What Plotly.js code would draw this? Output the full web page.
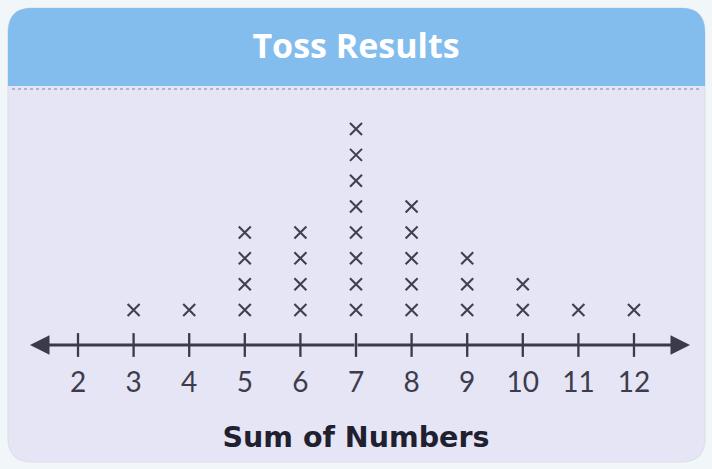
<!DOCTYPE html>
<html><head><meta charset="utf-8">
<script src="https://cdn.plot.ly/plotly-3.0.1.min.js"></script>
<style>html,body{margin:0;padding:0;background:#f1f6f9}</style>
</head><body><div id="chart" style="width:712px;height:469px"></div>
<script>
// ---- data ----
const sums = [2, 3, 4, 5, 6, 7, 8, 9, 10, 11, 12];
const counts = [0, 1, 1, 4, 4, 8, 5, 3, 2, 1, 1];
const tickLabels = ['2', '3', '4', '5', '6', '7', '8', '9', '10', '11', '12'];
const chartTitle = 'Toss Results';
const axisTitle = 'Sum of Numbers';

// ---- build stacked X marks from counts ----
const xs = [], ys = [];
sums.forEach((s, i) => { for (let k = 1; k <= counts[i]; k++) { xs.push(s); ys.push(k); } });

const W = 712, H = 469;
const AXIS_PX = 345;
const X_RANGE = [0.597, 13.403];
const Y_RANGE = [-5.149, 12.99];
const AXIS_Y = -0.353;
function px(x) { return (x / W).toFixed(4); }
function py(y) { return (1 - y / H).toFixed(4); }

const L = 8, R = 705, T = 8, B = 462, RAD = 24, HB = 86;
const cardPath = `M ${px(L)},${py(T + RAD)} Q ${px(L)},${py(T)} ${px(L + RAD)},${py(T)} L ${px(R - RAD)},${py(T)} Q ${px(R)},${py(T)} ${px(R)},${py(T + RAD)} L ${px(R)},${py(B - RAD)} Q ${px(R)},${py(B)} ${px(R - RAD)},${py(B)} L ${px(L + RAD)},${py(B)} Q ${px(L)},${py(B)} ${px(L)},${py(B - RAD)} Z`;
const headPath = `M ${px(L)},${py(HB)} L ${px(L)},${py(T + RAD)} Q ${px(L)},${py(T)} ${px(L + RAD)},${py(T)} L ${px(R - RAD)},${py(T)} Q ${px(R)},${py(T)} ${px(R)},${py(T + RAD)} L ${px(R)},${py(HB)} Z`;

const traces = [
  {
    x: sums, y: sums.map(() => AXIS_Y), mode: 'markers', type: 'scatter',
    marker: { symbol: 'line-ns-open', size: 17, color: '#3a3a4a', line: { width: 2.3, color: '#3a3a4a' } },
    cliponaxis: false, hoverinfo: 'skip', showlegend: false
  },
  {
    x: xs, y: ys, mode: 'markers', type: 'scatter',
    marker: { symbol: 'x-thin-open', size: 12, color: '#40404f', line: { width: 2.1, color: '#40404f' } },
    cliponaxis: false, showlegend: false
  }
];

const layout = {
  width: W, height: H,
  margin: { l: 0, r: 0, t: 0, b: 0, pad: 0 },
  paper_bgcolor: '#f1f6f9', plot_bgcolor: 'rgba(0,0,0,0)',
  showlegend: false,
  title: {
    text: chartTitle, x: 0.5, xanchor: 'center', y: 1 - 46 / H, yanchor: 'middle', yref: 'container',
    font: { family: 'Open Sans', size: 34, color: '#ffffff', weight: 700 }
  },
  xaxis: {
    range: X_RANGE, anchor: 'free', position: (H - AXIS_PX) / H,
    tickvals: sums, ticktext: tickLabels, ticks: '', showline: false, showgrid: false, zeroline: false,
    tickfont: { family: 'Lato', size: 28, color: '#3c3c4c' }, ticklabelstandoff: 18,
    title: { text: axisTitle, standoff: 30, font: { family: 'DejaVu Sans', size: 28.5, color: '#20202e', weight: 700 } },
    fixedrange: true
  },
  yaxis: {
    range: Y_RANGE, domain: [0, 1], visible: false, showgrid: false, zeroline: false, fixedrange: true
  },
  shapes: [
    { type: 'path', xref: 'paper', yref: 'paper', path: cardPath, fillcolor: '#e6e5f5', line: { width: 1, color: '#dcdce8' }, layer: 'below' },
    { type: 'path', xref: 'paper', yref: 'paper', path: headPath, fillcolor: '#83bdee', line: { width: 0 }, layer: 'below' },
    { type: 'line', xref: 'paper', yref: 'paper', x0: px(L + 4), x1: px(R - 4), y0: py(89), y1: py(89), line: { color: '#a8b6d4', width: 2, dash: 'dot' }, layer: 'below' }
  ],
  annotations: [
    { x: 13.007, y: AXIS_Y, ax: 7, ay: AXIS_Y, xref: 'x', yref: 'y', axref: 'x', ayref: 'y', text: '', showarrow: true, arrowhead: 2, arrowsize: 1.3, arrowwidth: 3, arrowcolor: '#3a3a4a', standoff: 0 },
    { x: 1.137, y: AXIS_Y, ax: 7, ay: AXIS_Y, xref: 'x', yref: 'y', axref: 'x', ayref: 'y', text: '', showarrow: true, arrowhead: 2, arrowsize: 1.3, arrowwidth: 3, arrowcolor: '#3a3a4a', standoff: 0 }
  ]
};

Plotly.newPlot('chart', traces, layout, { displayModeBar: false, staticPlot: true });
</script>
</body></html>
